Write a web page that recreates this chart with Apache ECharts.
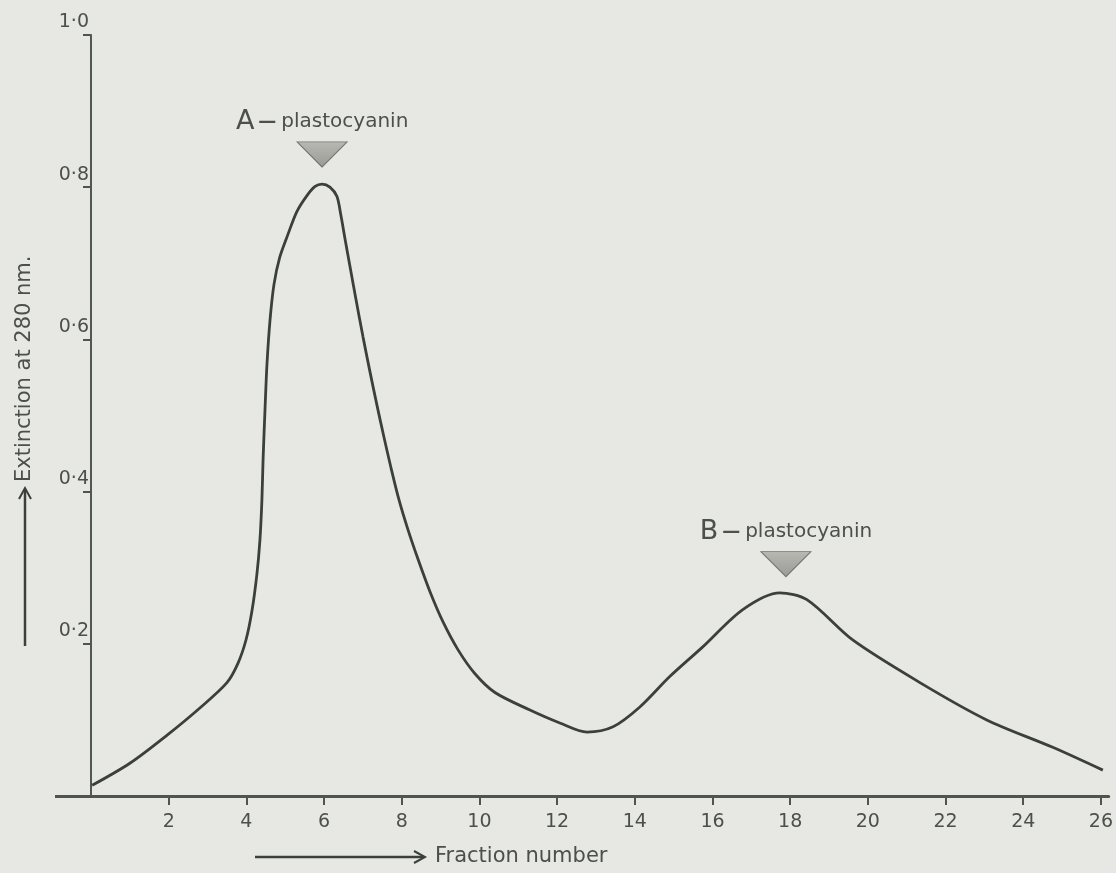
<!DOCTYPE html>
<html>
<head>
<meta charset="utf-8">
<script src="https://cdn.jsdelivr.net/npm/echarts@6/dist/echarts.min.js"></script>
<style>
html,body{margin:0;padding:0;background:#e7e8e4;}
#c{width:1116px;height:873px;}
</style>
</head>
<body>
<div id="c"></div>
<script>
// Data
const fraction   = [0.03, 1.0, 1.96, 2.81, 3.50, 3.78, 3.99, 4.14, 4.27, 4.35, 4.40, 4.43, 4.48, 4.53, 4.61, 4.71, 4.86, 5.07, 5.30, 5.56, 5.77, 5.95, 6.15, 6.33, 6.43, 6.54, 6.67, 6.82, 7.00, 7.18, 7.36, 7.54, 7.72, 7.93, 8.16, 8.42, 8.73, 9.06, 9.45, 9.88, 10.40, 11.30, 12.07, 12.77, 13.44, 14.13, 14.90, 15.75, 16.78, 17.73, 18.43, 19.61, 21.34, 23.06, 24.76, 26.05];
const extinction = [0.014, 0.043, 0.080, 0.116, 0.149, 0.174, 0.205, 0.242, 0.291, 0.337, 0.389, 0.442, 0.508, 0.567, 0.626, 0.672, 0.708, 0.738, 0.768, 0.789, 0.801, 0.804, 0.800, 0.788, 0.764, 0.732, 0.695, 0.653, 0.604, 0.558, 0.514, 0.472, 0.432, 0.389, 0.350, 0.311, 0.268, 0.229, 0.192, 0.161, 0.136, 0.113, 0.096, 0.084, 0.091, 0.117, 0.157, 0.196, 0.245, 0.267, 0.258, 0.205, 0.149, 0.100, 0.064, 0.034];
const xTicks = [2, 4, 6, 8, 10, 12, 14, 16, 18, 20, 22, 24, 26];
const yTicks = [0.2, 0.4, 0.6, 0.8, 1.0];
const peakNames = ['A', 'B'];
const peakX = [5.95, 17.89];
const peakMarkerY = [0.843, 0.3046];

const ink = '#3b403a';
const textInk = '#4b5049';
const font = '"DejaVu Sans", sans-serif';

const chart = echarts.init(document.getElementById('c'), null, {renderer: 'canvas'});
const seriesData = fraction.map((x, i) => [x, extinction[i]]);

chart.setOption({
  backgroundColor: '#e7e8e4',
  animation: false,
  grid: {left: 91, right: 7, top: 35, bottom: 77},
  xAxis: {
    type: 'value', min: 0, max: 26.2,
    axisLine: {show: true, lineStyle: {color: '#4f544d', width: 3}},
    axisTick: {show: true, customValues: xTicks, length: 9, lineStyle: {color: '#4f544d', width: 2}},
    axisLabel: {customValues: xTicks, margin: 17, fontFamily: font, fontSize: 19, color: textInk},
    splitLine: {show: false}
  },
  yAxis: {
    type: 'value', min: 0, max: 1.0,
    axisLine: {show: true, onZero: false, lineStyle: {color: '#4f5a4d', width: 2}},
    axisTick: {show: true, customValues: yTicks, length: 8, lineStyle: {color: '#4f544d', width: 2}},
    axisLabel: {
      customValues: yTicks, margin: 2, fontFamily: font, fontSize: 19, color: textInk,
      verticalAlign: 'bottom', padding: [0, 0, 3, 0],
      formatter: v => v.toFixed(1).replace('.', '·')
    },
    splitLine: {show: false}
  },
  series: [{
    type: 'line',
    data: seriesData,
    smooth: 0.3,
    showSymbol: false,
    lineStyle: {color: ink, width: 2.8},
    markPoint: {
      symbol: 'triangle',
      symbolRotate: 180,
      symbolSize: [50, 25],
      itemStyle: {
        color: new echarts.graphic.LinearGradient(0, 0, 0, 1, [
          {offset: 0, color: '#9a9b94'}, {offset: 1, color: '#b7b8b1'}
        ]),
        borderColor: '#73756f', borderWidth: 1
      },
      label: {
        show: true, position: 'top', distance: 6,
        formatter: p => '{big|' + p.name + '}{dash|—}{small|plastocyanin}',
        rich: {
          big: {fontFamily: font, fontSize: 27, color: textInk, padding: [0, 4, 0, 0]},
          dash: {fontFamily: font, fontSize: 18, fontWeight: 'bold', color: textInk, padding: [0, 5, 0, 0]},
          small: {fontFamily: font, fontSize: 20, color: textInk}
        }
      },
      data: peakNames.map((n, i) => ({name: n, coord: [peakX[i], peakMarkerY[i]]}))
    }
  }],
  graphic: [
    {type: 'line', shape: {x1: 55, y1: 796.5, x2: 92, y2: 796.5}, style: {stroke: '#4f544d', lineWidth: 3}},
    {type: 'line', shape: {x1: 255, y1: 857, x2: 424, y2: 857}, style: {stroke: ink, lineWidth: 2.5}},
    {type: 'polyline', shape: {points: [[414, 851], [425, 857], [414, 863]]}, style: {stroke: ink, lineWidth: 2, fill: null}},
    {type: 'text', x: 435, y: 857, style: {text: 'Fraction number', font: '21px ' + font, fill: textInk, verticalAlign: 'middle', align: 'left'}},
    {type: 'line', shape: {x1: 25, y1: 646, x2: 25, y2: 489}, style: {stroke: ink, lineWidth: 2.5}},
    {type: 'polyline', shape: {points: [[19, 499], [25, 488], [31, 499]]}, style: {stroke: ink, lineWidth: 2, fill: null}},
    {type: 'text', x: 25, y: 482, rotation: Math.PI / 2, style: {text: 'Extinction at 280 nm.', font: '21px ' + font, fill: textInk, verticalAlign: 'middle', align: 'left'}}
  ]
});
</script>
</body>
</html>
